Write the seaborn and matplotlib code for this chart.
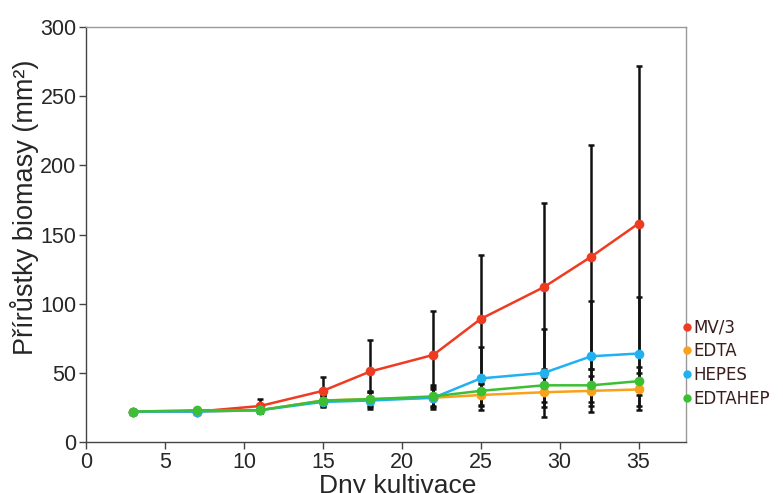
import matplotlib
matplotlib.use("Agg")
import matplotlib.pyplot as plt
from matplotlib.lines import Line2D
import seaborn as sns
import pandas as pd
import numpy as np

days = [3, 7, 11, 15, 18, 22, 25, 29, 32, 35]
series_names = ["MV/3", "EDTA", "HEPES", "EDTAHEP"]
mv3 = [22, 22, 26, 37, 51, 63, 89, 112, 134, 158]
edta = [22, 22, 23, 30, 31, 32, 34, 36, 37, 38]
hepes = [22, 22, 23, 29, 30, 32, 46, 50, 62, 64]
edtahep = [22, 23, 23, 30, 31, 33, 37, 41, 41, 44]
mv3_err = [0, 1, 5, 10, 23, 32, 46, 61, 81, 114]
edta_err = [0, 1, 2, 3, 5, 6, 8, 11, 11, 12]
hepes_err = [0, 1, 2, 4, 6, 8, 23, 32, 40, 41]
edtahep_err = [0, 1, 2, 4, 6, 8, 10, 12, 12, 10]
colors = ["#ef3b21", "#f9a11b", "#20b1f0", "#3dbf33"]

values = [mv3, edta, hepes, edtahep]
errors = [mv3_err, edta_err, hepes_err, edtahep_err]
df = pd.DataFrame({
    "day": days * 4,
    "val": sum(values, []),
    "err": sum(errors, []),
    "series": sum([[n] * len(days) for n in series_names], []),
})

sns.set_style("white")
plt.rcParams["font.family"] = ["Liberation Sans", "DejaVu Sans"]

fig = plt.figure(figsize=(7.83, 4.93), dpi=100)
ax = fig.add_axes([0.110, 0.1034, 0.766, 0.8416])

for name in series_names:
    d = df[df.series == name]
    ax.errorbar(d.day, d.val, yerr=d.err, fmt="none", ecolor="#111111",
                elinewidth=1.8, capsize=2.5, capthick=1.8, zorder=1)

sns.lineplot(data=df, x="day", y="val", hue="series", hue_order=series_names,
             palette=colors, marker="o", markersize=7, markeredgewidth=0,
             linewidth=1.8, ax=ax, zorder=3, legend=False, errorbar=None)

ax.set_xlim(0, 38)
ax.set_ylim(0, 300)
ax.set_xticks(range(0, 36, 5))
ax.set_yticks(range(0, 301, 50))
ax.tick_params(axis="both", which="both", direction="out", length=5,
               width=1, color="#444444", labelsize=15.5, left=True, bottom=True,
               pad=2)
for s in ["left", "bottom"]:
    ax.spines[s].set_color("#444444")
    ax.spines[s].set_linewidth(1)
for s in ["top", "right"]:
    ax.spines[s].set_color("#999999")
    ax.spines[s].set_linewidth(1)

ax.set_xlabel("Dny kultivace", fontsize=19)
ax.set_ylabel("Přírůstky biomasy (mm²)", fontsize=19.5)
ax.xaxis.set_label_coords(0.52, -0.078)
ax.yaxis.set_label_coords(-0.078, 0.565)

handles = [Line2D([0], [0], marker="o", color="none", markerfacecolor=c,
                  markeredgewidth=0, markersize=6) for c in colors]
leg = ax.legend(handles, series_names, loc="center left",
                bbox_to_anchor=(0.995, 0.19), frameon=False,
                handlelength=0.5, handletextpad=0.1, labelspacing=0.35,
                borderaxespad=0.0, borderpad=0.0,
                prop={"family": "DejaVu Sans", "size": 12})
for t in leg.get_texts():
    t.set_color("#3a1d1d")

fig.savefig("out.png", dpi=100)
